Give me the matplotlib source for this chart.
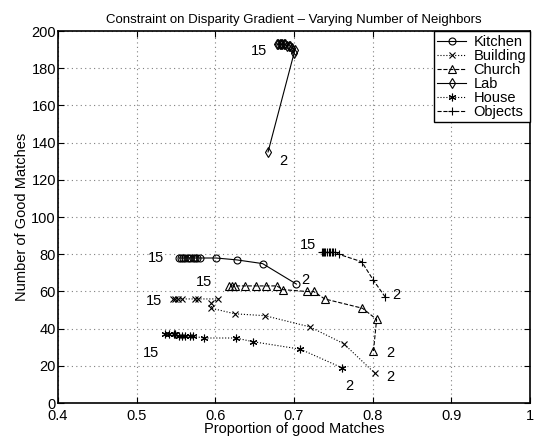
import numpy as np
import matplotlib
matplotlib.use("Agg")
import matplotlib.pyplot as plt

# values; first point = 2 neighbours, last = 15
kitchen_x = [0.703, 0.660, 0.627, 0.601, 0.580, 0.577, 0.574, 0.571, 0.568, 0.565, 0.562, 0.559, 0.556, 0.554]
kitchen_y = [64, 75, 77, 78, 78, 78, 78, 78, 78, 78, 78, 78, 78, 78]

building_x = [0.803, 0.763, 0.720, 0.663, 0.625, 0.595, 0.595, 0.604, 0.578, 0.574, 0.558, 0.553, 0.549, 0.546]
building_y = [16, 32, 41, 47, 48, 51, 54, 56, 56, 56, 56, 56, 56, 56]

church_x = [0.801, 0.805, 0.787, 0.739, 0.725, 0.716, 0.686, 0.678, 0.664, 0.652, 0.638, 0.625, 0.621, 0.618]
church_y = [28, 45, 51, 56, 60, 60, 61, 63, 63, 63, 63, 63, 63, 63]

lab_x = [0.667, 0.700, 0.701, 0.698, 0.695, 0.693, 0.691, 0.689, 0.687, 0.685, 0.683, 0.682, 0.680, 0.678]
lab_y = [135, 188, 190, 191, 192, 192, 192, 193, 193, 193, 193, 193, 193, 193]

house_x = [0.761, 0.708, 0.648, 0.626, 0.585, 0.572, 0.568, 0.561, 0.557, 0.554, 0.549, 0.547, 0.541, 0.536]
house_y = [19, 29, 33, 35, 35, 36, 36, 36, 36, 36, 37, 37, 37, 37]

objects_x = [0.816, 0.801, 0.786, 0.757, 0.752, 0.750, 0.748, 0.746, 0.744, 0.742, 0.740, 0.738, 0.737, 0.735]
objects_y = [57, 66, 76, 80, 81, 81, 81, 81, 81, 81, 81, 81, 81, 81]

# where the "15" and "2" labels sit
label15 = [(0.525, 78), (0.522, 55), (0.585, 65), (0.655, 189), (0.518, 27), (0.718, 85)]
label2 = [(0.714, 66), (0.822, 14), (0.822, 27), (0.687, 130), (0.770, 9), (0.830, 58)]

plt.rcParams['font.family'] = ['Liberation Sans', 'DejaVu Sans']
plt.rcParams['font.size'] = 10.5

fig = plt.figure(figsize=(5.37, 4.43), dpi=100)
ax = fig.add_axes([0.108, 0.09, 0.879, 0.84])

asterisk = (6, 2, 0)
series = [
    (kitchen_x, kitchen_y, '-', 'o', 'Kitchen', 5),
    (building_x, building_y, ':', 'x', 'Building', 4),
    (church_x, church_y, '--', '^', 'Church', 5.5),
    (lab_x, lab_y, '-', 'd', 'Lab', 5),
    (house_x, house_y, ':', asterisk, 'House', 5.5),
    (objects_x, objects_y, '--', '+', 'Objects', 6),
]
for xs, ys, ls, mk, name, ms in series:
    ax.plot(xs, ys, linestyle=ls, marker=mk, color='k', markerfacecolor='none',
            markeredgecolor='k', markersize=ms, linewidth=0.8, markeredgewidth=0.8,
            label=name)

for (x, y) in label15:
    ax.text(x, y, "15", ha='center', va='center', fontsize=10.5)
for (x, y) in label2:
    ax.text(x, y, "2", ha='center', va='center', fontsize=10.5)

ax.set_xlim(0.4, 1.0)
ax.set_ylim(0, 200)
ax.set_xticks(np.arange(0.4, 1.01, 0.1))
ax.set_xticklabels(["0.4", "0.5", "0.6", "0.7", "0.8", "0.9", "1"])
ax.set_yticks(np.arange(0, 201, 20))
ax.tick_params(direction='in', length=4, width=0.8, top=True, right=True, pad=1.5)
ax.tick_params(axis='x', pad=4.5)
ax.grid(True, linestyle=(0, (1, 3)), color='#808080', linewidth=0.8)
for sp in ax.spines.values():
    sp.set_linewidth(1.2)

leg = ax.legend(loc='upper right', borderaxespad=0, fancybox=False, framealpha=1,
                edgecolor='k', handlelength=2.0, labelspacing=0.0, borderpad=0.25,
                handletextpad=0.5, fontsize=10.5)
leg.get_frame().set_linewidth(1.0)

ax.set_title("Constraint on Disparity Gradient \u2013 Varying Number of Neighbors",
             fontsize=9.5, pad=6)
ax.set_xlabel("Proportion of good Matches", fontsize=10.5, labelpad=-1)
ax.set_ylabel("Number of Good Matches", fontsize=10.5, labelpad=2)

fig.savefig("out.png", dpi=100)
